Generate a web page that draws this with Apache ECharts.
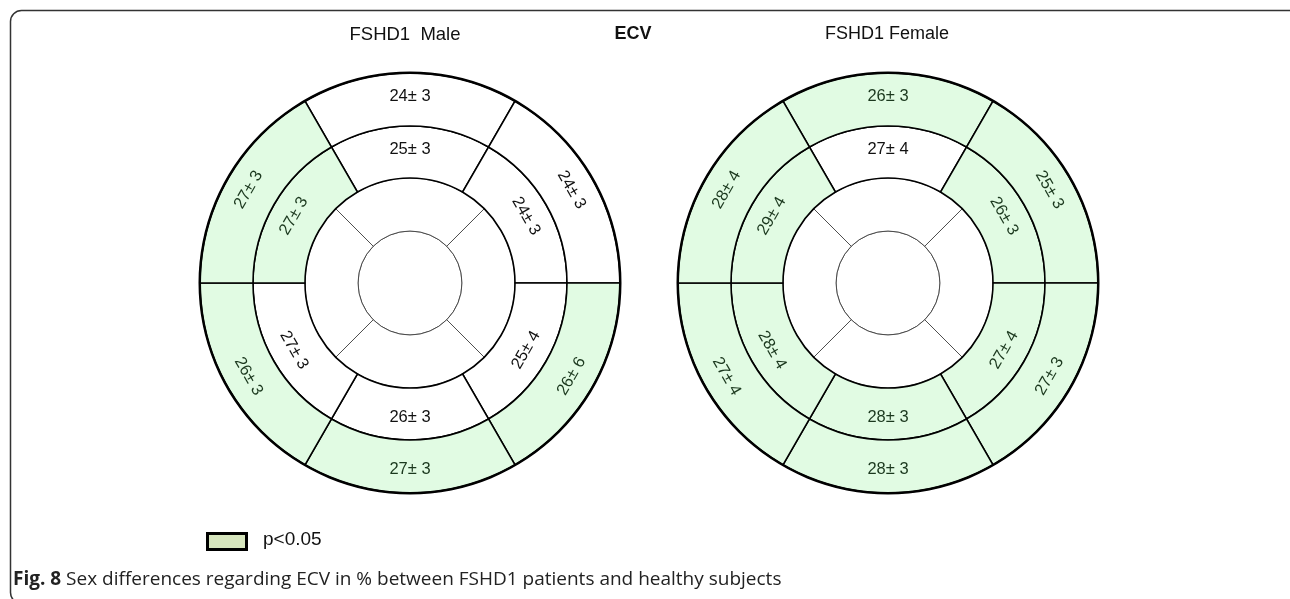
<!DOCTYPE html>
<html>
<head>
<meta charset="utf-8">
<script src="https://cdn.jsdelivr.net/npm/echarts@6/dist/echarts.min.js"></script>
<style>
  html, body { margin: 0; padding: 0; background: #fff; }
  #main { width: 1290px; height: 599px; }
</style>
</head>
<body>
<div id="main"></div>
<script>
// segment order: top, upper-right, lower-right, bottom, lower-left, upper-left
const segments = ['anterior', 'anterolateral', 'inferolateral', 'inferior', 'inferoseptal', 'anteroseptal']

// FSHD1 male, mean ± sd, 1 = p<0.05
const maleBasalMean = [24, 24, 26, 27, 26, 27]
const maleBasalSd = [3, 3, 6, 3, 3, 3]
const maleBasalSig = [0, 0, 1, 1, 1, 1]
const maleMidMean = [25, 24, 25, 26, 27, 27]
const maleMidSd = [3, 3, 4, 3, 3, 3]
const maleMidSig = [0, 0, 0, 0, 0, 1]

// FSHD1 female
const femaleBasalMean = [26, 25, 27, 28, 27, 28]
const femaleBasalSd = [3, 3, 3, 3, 4, 4]
const femaleBasalSig = [1, 1, 1, 1, 1, 1]
const femaleMidMean = [27, 26, 27, 28, 28, 29]
const femaleMidSd = [4, 3, 4, 3, 4, 4]
const femaleMidSig = [0, 1, 1, 1, 1, 1]

const apicalSegments = ['apical anterior', 'apical lateral', 'apical inferior', 'apical septal']

const SIG_FILL = '#e1fbe3'
const SIG_TEXT = '#1b381e'

const chart = echarts.init(document.getElementById('main'))

function ringData(mean, sd, sig) {
  return segments.map((name, i) => ({
    name: name,
    value: 1,
    mean: mean[i],
    sd: sd[i],
    itemStyle: { color: sig[i] ? SIG_FILL : '#ffffff' },
    label: { color: sig[i] ? SIG_TEXT : '#111' }
  }))
}

function ringSeries(center, radius, data) {
  return {
    type: 'pie',
    center: center,
    radius: radius,
    startAngle: 120,
    clockwise: true,
    silent: true,
    animation: false,
    avoidLabelOverlap: false,
    label: {
      show: true,
      position: 'inside',
      rotate: 'tangential',
      fontFamily: 'Liberation Sans, Arial',
      fontSize: 16.5,
      formatter: p => p.data.mean + '\u00b1 ' + p.data.sd
    },
    labelLine: { show: false },
    itemStyle: { borderColor: '#000', borderWidth: 1.6 },
    emphasis: { disabled: true },
    data: data
  }
}

function bullseye(center, basalMean, basalSd, basalSig, midMean, midSd, midSig) {
  return [
    {
      type: 'pie', center: center, radius: [0, 52], silent: true, animation: false,
      label: { show: false }, labelLine: { show: false }, emphasis: { disabled: true },
      itemStyle: { color: '#fff', borderColor: '#444', borderWidth: 0.9 },
      data: [{ name: 'apex', value: 1 }]
    },
    {
      type: 'pie', center: center, radius: [52, 105], startAngle: 135, silent: true, animation: false,
      label: { show: false }, labelLine: { show: false }, emphasis: { disabled: true },
      itemStyle: { color: '#fff', borderColor: '#444', borderWidth: 0.9 },
      data: apicalSegments.map(n => ({ name: n, value: 1 }))
    },
    ringSeries(center, [105, 157], ringData(midMean, midSd, midSig)),
    ringSeries(center, [157, 210], ringData(basalMean, basalSd, basalSig)),
    {
      // heavy outline of the basal ring
      type: 'pie', center: center, radius: [209, 211.5], silent: true, animation: false,
      label: { show: false }, labelLine: { show: false }, emphasis: { disabled: true },
      itemStyle: { color: '#000' },
      data: [{ name: 'outline', value: 1 }]
    }
  ]
}

const maleCenter = [410, 283]
const femaleCenter = [888, 283]

const option = {
  backgroundColor: '#fff',
  title: [
    { text: 'FSHD1  Male', left: 400, top: 20, textAlign: 'center',
      textStyle: { fontFamily: 'Liberation Sans', fontSize: 18.5, fontWeight: 'normal', color: '#111' } },
    { text: 'ECV', left: 628, top: 20, textAlign: 'center',
      textStyle: { fontFamily: 'Liberation Sans', fontSize: 18, fontWeight: 'bold', color: '#111' } },
    { text: 'FSHD1 Female', left: 882, top: 20, textAlign: 'center',
      textStyle: { fontFamily: 'Liberation Sans', fontSize: 18, fontWeight: 'normal', color: '#111' } },
    { text: '{b|Fig. 8} Sex differences regarding ECV in % between FSHD1 patients and healthy subjects',
      left: 8, top: 565,
      textStyle: { fontFamily: 'Open Sans', fontSize: 19, fontWeight: 'normal', color: '#222',
        rich: { b: { fontFamily: 'Open Sans', fontSize: 19, fontWeight: 'bold', color: '#222' } } } }
  ],
  graphic: [
    {
      // figure frame (only top and left edges fall inside the picture)
      type: 'rect', left: 8, top: 8, silent: true,
      shape: { width: 1300, height: 593, r: 11 },
      style: { fill: null, stroke: '#333', lineWidth: 1.5 }
    },
    {
      type: 'rect', left: 206, top: 532, silent: true,
      shape: { width: 39, height: 16 },
      style: { fill: '#d6e5bd', stroke: '#000', lineWidth: 3 }
    },
    {
      type: 'text', left: 263, top: 530, silent: true,
      style: { text: 'p<0.05', font: '19px Liberation Sans', fill: '#111' }
    }
  ],
  series: [
    ...bullseye(maleCenter, maleBasalMean, maleBasalSd, maleBasalSig, maleMidMean, maleMidSd, maleMidSig),
    ...bullseye(femaleCenter, femaleBasalMean, femaleBasalSd, femaleBasalSig, femaleMidMean, femaleMidSd, femaleMidSig)
  ]
}

chart.setOption(option)
</script>
</body>
</html>
